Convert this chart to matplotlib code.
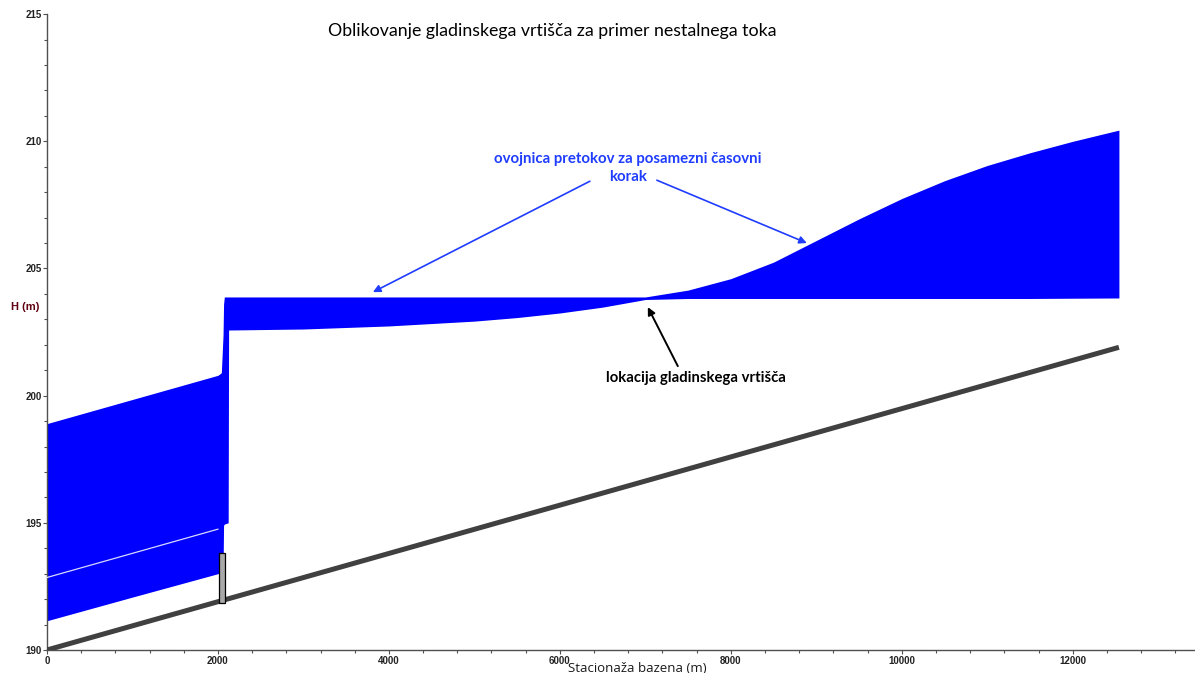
import matplotlib
matplotlib.use("Agg")
import matplotlib.pyplot as plt
from matplotlib.ticker import MultipleLocator

# ---- data ----
# envelope of water levels over all time steps
stations = [0, 1000, 2000, 2040, 2060, 2066, 2075, 2120, 2125,
            3000, 4000, 5000, 5500, 6000, 6500, 7000, 7500, 8000, 8500, 9000,
            9500, 10000, 10500, 11000, 11500, 12000, 12540]
upper = [198.9, 199.85, 200.8, 200.9, 202.4, 203.6, 203.88, 203.88, 203.88,
         203.88, 203.88, 203.88, 203.88, 203.88, 203.88, 203.88, 204.15, 204.6, 205.25, 206.1,
         206.95, 207.75, 208.45, 209.05, 209.55, 210.0, 210.44]
lower = [191.15, 192.08, 193.0, 193.08, 193.12, 194.9, 194.95, 195.0, 202.58,
         202.62, 202.74, 202.93, 203.07, 203.25, 203.48, 203.78, 203.82, 203.82, 203.82, 203.82,
         203.82, 203.82, 203.82, 203.82, 203.82, 203.83, 203.84]

# white streak inside the downstream envelope
streak_station = [0, 2000]
streak_level = [192.85, 194.75]

# channel bed
bed_station = [0, 12540]
bed_level = [190.0, 201.9]

# weir
weir_station = [2010, 2080]
weir_crest = 193.8
weir_base = 191.85

title = "Oblikovanje gladinskega vrtišča za primer nestalnega toka"
xlabel = "Stacionaža bazena (m)"
ylabel = "H (m)"
note_env = "ovojnica pretokov za posamezni časovni\nkorak"
note_vertex = "lokacija gladinskega vrtišča"

# ---- figure ----
fig = plt.figure(figsize=(11.95, 6.73), dpi=100)
ax = fig.add_axes([0.0393, 0.0342, 0.9607, 0.9448])

ax.fill_between(stations, lower, upper, color="#0000ff", lw=0, zorder=2)
ax.plot(streak_station, streak_level, color="white", lw=0.9, alpha=0.85, zorder=3)

ax.plot(bed_station, bed_level, color="#404040", lw=3.6, solid_capstyle="butt", zorder=4)

wx = (weir_station[0] + weir_station[1]) / 2
ww = weir_station[1] - weir_station[0]
ax.bar([wx], [weir_crest - weir_base], bottom=[weir_base], width=ww,
       color="#a8a8a8", edgecolor="black", lw=0.9, zorder=5)

ax.set_xlim(0, 13430)
ax.set_ylim(190, 215)
ax.xaxis.set_major_locator(MultipleLocator(2000))
ax.xaxis.set_minor_locator(MultipleLocator(400))
ax.yaxis.set_major_locator(MultipleLocator(5))
ax.yaxis.set_minor_locator(MultipleLocator(1))

for s in ("top", "right"):
    ax.spines[s].set_visible(False)
for s in ("left", "bottom"):
    ax.spines[s].set_color("#505050")
    ax.spines[s].set_linewidth(1.0)

ax.tick_params(which="major", length=3, width=0.8, color="#505050", pad=1)
ax.tick_params(which="minor", length=2, width=0.8, color="#505050")
for lab in ax.get_xticklabels() + ax.get_yticklabels():
    lab.set_fontsize(7)
    lab.set_fontweight("bold")
    lab.set_family("Liberation Sans")
    lab.set_color("#222222")

fig.text(637 / 1195, 1 - 668 / 673, xlabel, ha="center", va="center",
         fontsize=9.5, family="Open Sans", color="#1a1a1a")
fig.text(25 / 1195, 1 - 307 / 673, ylabel, ha="center", va="center",
         fontsize=8, fontweight="bold", family="Liberation Sans", color="#600010")
fig.text(552 / 1195, 1 - 31 / 673, title, ha="center", va="center",
         fontsize=12.8, family="Lato", color="black")

blue = "#1f3cff"
ax.text(6795, 208.95, note_env, ha="center", va="center", fontsize=10.8,
        fontweight="bold", family="Lato", color=blue, linespacing=1.3)
ax.annotate("", xy=(3813, 204.07), xytext=(6351, 208.43),
            arrowprops=dict(arrowstyle="-|>", color=blue, lw=1.2, mutation_scale=11,
                            shrinkA=0, shrinkB=0))
ax.annotate("", xy=(8889, 206.0), xytext=(7135, 208.47),
            arrowprops=dict(arrowstyle="-|>", color=blue, lw=1.2, mutation_scale=11,
                            shrinkA=0, shrinkB=0))

ax.text(7590, 200.69, note_vertex, ha="center", va="center", fontsize=10.7,
        fontweight="bold", family="Lato", color="black")
ax.annotate("", xy=(7029, 203.48), xytext=(7380, 201.16),
            arrowprops=dict(arrowstyle="-|>", color="black", lw=1.4, mutation_scale=11,
                            shrinkA=0, shrinkB=0))

fig.savefig("out.png", dpi=100)
